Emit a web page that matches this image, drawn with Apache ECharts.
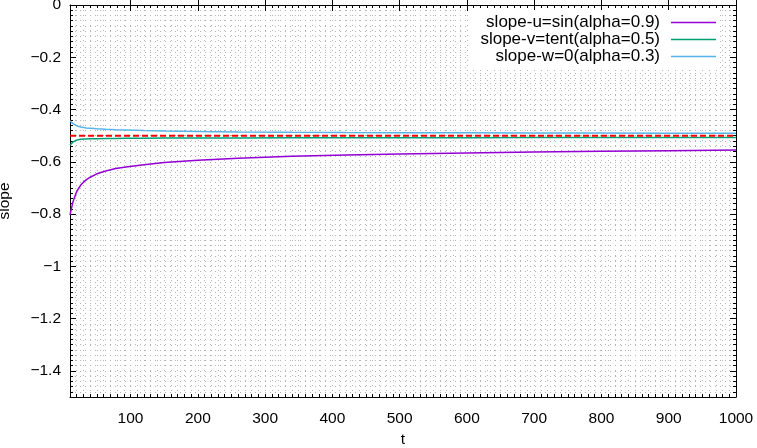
<!DOCTYPE html>
<html lang="en">
<head>
<meta charset="UTF-8">
<title>slope</title>
<script src="https://cdn.jsdelivr.net/npm/echarts@6/dist/echarts.min.js"></script>
<style>
  html, body { margin: 0; padding: 0; background: #fff; }
  #main { width: 757px; height: 448px; }
</style>
</head>
<body>
<div id="main"></div>
<script>
// time steps (shared by all three curves)
var tValues = [10, 12, 14, 16, 19, 22, 26, 30, 34, 40, 50, 63, 78, 93, 120, 150, 200, 260, 340, 420, 500, 600, 700, 800, 900, 1000]
// slope-u=sin(alpha=0.9)
var slopeU = [-0.803, -0.780, -0.758, -0.741, -0.720, -0.705, -0.689, -0.678, -0.669, -0.659, -0.646, -0.635, -0.626, -0.620, -0.611, -0.603, -0.594, -0.586, -0.579, -0.574, -0.570, -0.566, -0.5625, -0.5597, -0.5573, -0.555]
// slope-v=tent(alpha=0.5)
var slopeV = [-0.537, -0.530, -0.525, -0.521, -0.518, -0.516, -0.514, -0.513, -0.5125, -0.512, -0.5115, -0.511, -0.5105, -0.510, -0.5095, -0.509, -0.5088, -0.5085, -0.5082, -0.508, -0.5078, -0.5076, -0.5074, -0.5072, -0.507, -0.507]
// slope-w=0(alpha=0.3)
var slopeW = [-0.443, -0.449, -0.453, -0.457, -0.461, -0.464, -0.467, -0.469, -0.471, -0.472, -0.474, -0.4755, -0.477, -0.478, -0.480, -0.482, -0.484, -0.4855, -0.487, -0.488, -0.4885, -0.489, -0.4895, -0.490, -0.4905, -0.491]
// reference level (red dashed)
var refT = [10, 1000]
var refSlope = [-0.5, -0.5]

var legendNames = ['slope-u=sin(alpha=0.9)', 'slope-v=tent(alpha=0.5)', 'slope-w=0(alpha=0.3)']
var xMajorTicks = [100, 200, 300, 400, 500, 600, 700, 800, 900, 1000]
var yMajorTicks = [-1.4, -1.2, -1, -0.8, -0.6, -0.4, -0.2, 0]

var fontName = 'Liberation Sans'
var fontSize = 15.5

function pairs(xs, ys) {
    var out = []
    for (var i = 0; i < xs.length; i++) {
        out.push([xs[i], ys[i]])
    }
    return out
}

var gridDots = { show: true, lineStyle: { color: '#b4b4b4', width: 1, type: [1, 4] } }
var black = { color: '#000', width: 1 }

// minor-tick axis (carries grid + labels) and a major-tick overlay, bottom and top
function xAxes() {
    var base = { type: 'value', min: 10, max: 1000, interval: 10 }
    return [
        Object.assign({}, base, {
            position: 'bottom',
            name: 't', nameLocation: 'middle', nameGap: 34,
            nameTextStyle: { color: '#000', fontSize: fontSize, fontFamily: fontName },
            axisLine: { show: true, onZero: false, lineStyle: black },
            axisTick: { show: true, inside: true, length: 3, lineStyle: black },
            axisLabel: {
                margin: 14, color: '#000', fontSize: fontSize, fontFamily: fontName,
                formatter: function (v) {
                    var r = Math.round(v)
                    return (r % 100 === 0 && Math.abs(v - r) < 1e-6) ? String(r) : ''
                }
            },
            splitLine: gridDots
        }),
        Object.assign({}, base, {
            position: 'bottom',
            axisLine: { show: false },
            axisTick: { show: true, inside: true, length: 6, customValues: xMajorTicks, lineStyle: black },
            axisLabel: { show: false },
            splitLine: { show: false }
        }),
        Object.assign({}, base, {
            position: 'top',
            axisLine: { show: true, onZero: false, lineStyle: black },
            axisTick: { show: true, inside: true, length: 3, lineStyle: black },
            axisLabel: { show: false },
            splitLine: { show: false }
        }),
        Object.assign({}, base, {
            position: 'top',
            axisLine: { show: false },
            axisTick: { show: true, inside: true, length: 6, customValues: xMajorTicks, lineStyle: black },
            axisLabel: { show: false },
            splitLine: { show: false }
        })
    ]
}

function yAxes() {
    var base = { type: 'value', min: -1.5, max: 0, interval: 0.02 }
    return [
        Object.assign({}, base, {
            position: 'left',
            name: 'slope', nameLocation: 'middle', nameGap: 57,
            nameTextStyle: { color: '#000', fontSize: fontSize, fontFamily: fontName },
            axisLine: { show: true, onZero: false, lineStyle: black },
            axisTick: { show: true, inside: true, length: 3, lineStyle: black },
            axisLabel: {
                margin: 9, color: '#000', fontSize: fontSize, fontFamily: fontName,
                formatter: function (v) {
                    if (Math.abs(v * 5 - Math.round(v * 5)) > 1e-6) return ''
                    var n = +v.toFixed(1)
                    if (n === 0) return '0'
                    // gnuplot prints a real minus sign
                    return (n < 0 ? '\u2212' : '') + String(Math.abs(n))
                }
            },
            splitLine: gridDots
        }),
        Object.assign({}, base, {
            position: 'left',
            axisLine: { show: false },
            axisTick: { show: true, inside: true, length: 6, customValues: yMajorTicks, lineStyle: black },
            axisLabel: { show: false },
            splitLine: { show: false }
        }),
        Object.assign({}, base, {
            position: 'right',
            axisLine: { show: true, onZero: false, lineStyle: black },
            axisTick: { show: true, inside: true, length: 3, lineStyle: black },
            axisLabel: { show: false },
            splitLine: { show: false }
        }),
        Object.assign({}, base, {
            position: 'right',
            axisLine: { show: false },
            axisTick: { show: true, inside: true, length: 6, customValues: yMajorTicks, lineStyle: black },
            axisLabel: { show: false },
            splitLine: { show: false }
        })
    ]
}

function curve(name, ys, color) {
    return {
        name: name, type: 'line', data: pairs(tValues, ys),
        xAxisIndex: 0, yAxisIndex: 0,
        symbol: 'none', showSymbol: false,
        lineStyle: { color: color, width: 1.5 },
        itemStyle: { color: color }
    }
}

var chart = echarts.init(document.getElementById('main'))
chart.setOption({
    animation: false,
    backgroundColor: '#fff',
    grid: { left: 70, right: 21, top: 5, bottom: 51, containLabel: false, outerBoundsMode: 'none' },
    legend: {
        data: legendNames.map(function (n) { return { name: n, icon: 'rect' } }),
        orient: 'vertical', align: 'right',
        right: 37, top: 10,
        padding: [4, 4, 4, 12], backgroundColor: '#fff',
        itemWidth: 45, itemHeight: 1.5, itemGap: 0,
        textStyle: { color: '#000', fontSize: 17, fontFamily: fontName, lineHeight: 17, padding: [0, 6, 0, 0] }
    },
    xAxis: xAxes(),
    yAxis: yAxes(),
    series: [
        curve(legendNames[0], slopeU, '#9400d3'),
        curve(legendNames[1], slopeV, '#009e73'),
        curve(legendNames[2], slopeW, '#56b4e9'),
        {
            name: 'ref', type: 'line', data: pairs(refT, refSlope),
            xAxisIndex: 0, yAxisIndex: 0, symbol: 'none', z: 5,
            lineStyle: { color: '#ff0000', width: 2, type: [6, 3] }
        }
    ]
})
</script>
</body>
</html>
